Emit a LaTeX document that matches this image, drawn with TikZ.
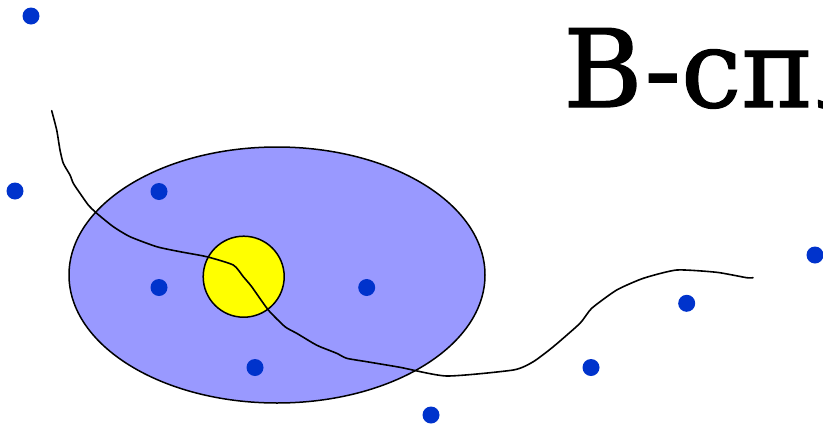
\documentclass[tikz,border=0pt]{standalone}
\usepackage{fontspec}
\setmainfont{DejaVu Serif}
\newfontfamily\titlefont[FakeBold=1.2]{DejaVu Serif}
\definecolor{ellfill}{HTML}{9999FF}
\definecolor{dotblue}{HTML}{0033CC}
\definecolor{sunyellow}{HTML}{FFFF00}
\begin{document}
\begin{tikzpicture}[x=1pt,y=-1pt,
  ctrlpt/.style={circle,fill=dotblue,draw=none,minimum size=17pt,inner sep=0pt},
  region/.style={draw=black,line width=1.5pt},
  splinecurve/.style={draw=black,line width=1.6pt,line join=round,line cap=round}]
\clip (0,0) rectangle (823,429);
\fill[white] (0,0) rectangle (823,429);
% ellipse and circle
\draw[region,fill=ellfill] (277,275) ellipse [x radius=208pt, y radius=128pt];
\node[region,fill=sunyellow,circle,minimum size=81pt,inner sep=0pt] (sun) at (243.7,276.7) {};
% curve
\draw[splinecurve] plot[smooth,tension=0.35] coordinates {
 (51.7,110.7) (56.7,130) (60,150) (63.3,163.3) (70,175) (73.3,183.3) (80,193.3)
 (88.3,205) (96.7,213.3) (113.3,226.7) (130,236.7) (156.7,246.7) (180,251.7)
 (206.7,256.7) (233.3,265) (243.3,276.7) (251.7,286.7) (268.3,310) (285,326.7)
 (296.7,333.3) (313.3,343.3) (320,346.7) (336.7,353.3) (346.7,358.3) (366.7,361.7)
 (400,367.3) (446.7,376) (513.3,370) (533.3,361.7) (553.3,346.7) (580,323.3)
 (591.7,308.3) (616.7,290) (643.3,278.3) (676.7,270) (716.7,272.3) (746.7,277.7) (753,277.7)};
% control points
\node[ctrlpt] (p1) at (31,16) {};
\node[ctrlpt] (p2) at (15,191) {};
\node[ctrlpt] (p3) at (159,191.5) {};
\node[ctrlpt] (p4) at (159,287.5) {};
\node[ctrlpt] (p5) at (366.7,287.5) {};
\node[ctrlpt] (p6) at (255,367.5) {};
\node[ctrlpt] (p7) at (431,415) {};
\node[ctrlpt] (p8) at (591,367.5) {};
\node[ctrlpt] (p9) at (686.7,303.3) {};
\node[ctrlpt] (p10) at (815,255) {};
% title
\node[anchor=base west,inner sep=0pt,font=\titlefont\fontsize{108}{120}\selectfont] (title) at (563,107) {B-сп\kern3ptлайн};
\end{tikzpicture}
\end{document}
